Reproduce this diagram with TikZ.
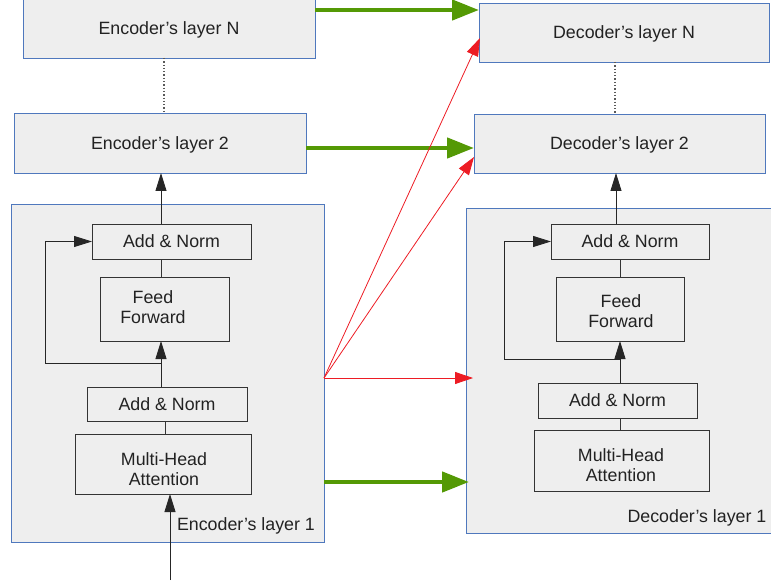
\documentclass[tikz,border=0pt]{standalone}
\usepackage{fontspec}
\setmainfont{Liberation Sans}
\usetikzlibrary{arrows.meta}
\definecolor{boxfill}{HTML}{EEEEEE}
\definecolor{boxblue}{rgb}{0.31,0.47,0.74}
\definecolor{grn}{rgb}{0.33,0.60,0.02}
\definecolor{redc}{rgb}{0.93,0.11,0.14}
\definecolor{txt}{HTML}{222222}
\definecolor{inner}{HTML}{333333}
\begin{document}
\begin{tikzpicture}[x=1pt,y=-1pt,
  every node/.style={font=\fontsize{17.8}{20}\selectfont, text=txt, outer sep=0pt, inner sep=0pt, align=center, text depth=0pt},
  layer/.style={draw=boxblue, fill=boxfill, line width=0.9pt},
  sub/.style={draw=inner, fill=boxfill, line width=0.9pt},
  blk/.style={-{Triangle[length=18pt,width=11pt]}, line width=0.9pt, draw=black!85},
  plain/.style={line width=0.9pt, draw=inner},
  grnarr/.style={-{Triangle[length=27pt,width=20pt]}, line width=4.5pt, draw=grn},
  redarr/.style={-{Triangle[length=18pt,width=12pt]}, line width=0.8pt, draw=redc},
  dots/.style={dotted, line width=1.3pt, draw=black!65}]
\useasboundingbox (0,0) rectangle (771,585);
\begin{scope}
\clip (0,0) rectangle (771,585);
% big layer boxes
\node[layer, minimum width=292pt, minimum height=60pt] (encN) at (169,28) {Encoder’s layer N};
\node[layer, minimum width=292pt, minimum height=60pt] (enc2) at (160,143) {Encoder’s layer 2};
\node[layer, minimum width=290pt, minimum height=59pt] (decN) at (624,32.5) {Decoder’s layer N};
\node[layer, minimum width=291pt, minimum height=59pt] (dec2) at (619.5,143.5) {Decoder’s layer 2};
\node[layer, minimum width=313pt, minimum height=338pt] (enc1) at (167.5,373) {};
\node[layer, minimum width=310pt, minimum height=325pt] (dec1) at (621,370.5) {};
\node (enc1lab) at (246,524) {Encoder’s layer 1};
\node (dec1lab) at (697,516) {Decoder’s layer 1};

% encoder inner
\node[sub, minimum width=159pt, minimum height=35pt] (eAN2) at (171.5,241.5) {Add \& Norm};
\node[sub, minimum width=129pt, minimum height=64pt] (eFF) at (164.5,309) {};
\node (eFFt) at (153,307) {Feed\\Forward};
\node[sub, minimum width=160pt, minimum height=34pt] (eAN1) at (167,404) {Add \& Norm};
\node[sub, minimum width=176pt, minimum height=60pt] (eMHA) at (163,464) {};
\node (eMHAt) at (164,469) {Multi-Head\\Attention};

% decoder inner
\node[sub, minimum width=158pt, minimum height=35pt] (dAN2) at (630,241.5) {Add \& Norm};
\node[sub, minimum width=128pt, minimum height=64pt] (dFF) at (620,309) {};
\node (dFFt) at (621,311) {Feed\\Forward};
\node[sub, minimum width=159pt, minimum height=35pt] (dAN1) at (617.5,400.5) {Add \& Norm};
\node[sub, minimum width=175pt, minimum height=61pt] (dMHA) at (621.5,460.5) {};
\node (dMHAt) at (621,465) {Multi-Head\\Attention};

% coordinates
\coordinate (ex) at (161,0);
\coordinate (dx) at (620,0);
\coordinate (eLoop) at (45,0);
\coordinate (dLoop) at (504,0);
\coordinate (in) at (170,580);
\coordinate (rs) at (324,378);
\coordinate (rN) at (480,38);
\coordinate (r2) at (474,157);
\coordinate (r1) at (473,378);
\coordinate (g1) at (469,482);
\coordinate (eDot) at (164,0);
\coordinate (dDot) at (615,0);

% encoder connectors
\draw[blk] (eAN2.north -| ex) -- (enc2.south -| ex);
\draw[plain] (eFF.north -| ex) -- (eAN2.south -| ex);
\draw[blk] (eAN1.north -| ex) -- (eFF.south -| ex);
\draw[plain] (eMHA.north -| 165,0) -- (eAN1.south -| 165,0);
\draw[blk] (in) -- (eMHA.south -| in);
\draw[blk] (161,363) -- (45,363) -- (eAN2.west -| eLoop) -- (eAN2.west);

% decoder connectors
\draw[blk] (dAN2.north -| 616,0) -- (dec2.south -| 616,0);
\draw[plain] (dFF.north -| dx) -- (dAN2.south -| dx);
\draw[blk] (dAN1.north -| dx) -- (dFF.south -| dx);
\draw[plain] (dMHA.north -| dx) -- (dAN1.south -| dx);
\draw[blk] (620,359) -- (504,359) -- (dAN2.west -| dLoop) -- (dAN2.west);

% dotted
\draw[dots] (encN.south -| eDot) -- (enc2.north -| eDot);
\draw[dots] (decN.south -| dDot) -- (dec2.north -| dDot);

% green
\draw[grnarr] (encN.east |- 0,10) -- (decN.west |- 0,10);
\draw[grnarr] (enc2.east |- 0,148) -- (dec2.west |- 0,148);
\draw[grnarr] (enc1.east |- g1) -- (g1);

% red
\draw[redarr] (rs) -- (rN);
\draw[redarr] (rs) -- (r2);
\draw[redarr] (rs) -- (r1);
\end{scope}
\end{tikzpicture}
\end{document}
